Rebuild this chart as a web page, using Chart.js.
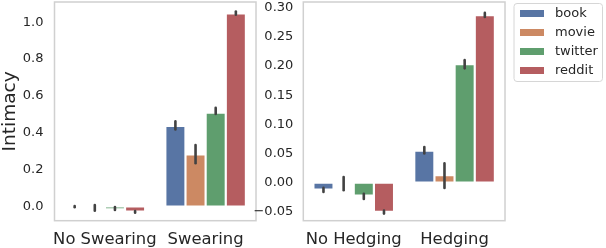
<!DOCTYPE html>
<html>
<head>
<meta charset="utf-8">
<script src="https://cdn.jsdelivr.net/npm/chart.js@4/dist/chart.umd.min.js"></script>
<style>
  body { margin: 0; background: #fff; }
  #wrap { position: relative; width: 606px; height: 248px; overflow: hidden; }
  canvas { position: absolute; top: 0; }
  #swearChart { left: 0; }
  #hedgeChart { left: 250px; }
</style>
</head>
<body>
<div id="wrap">
  <canvas id="swearChart" width="260" height="248"></canvas>
  <canvas id="hedgeChart" width="356" height="248"></canvas>
</div>
<script>
// ===== data =====
const subsets = ["book", "movie", "twitter", "reddit"];
const colors = ["#5875a4", "#cc8963", "#5f9e6e", "#b55d60"];

const swearCats = ["No Swearing", "Swearing"];
const hedgeCats = ["No Hedging", "Hedging"];

// mean intimacy per subset, one row per subset (book, movie, twitter, reddit)
const swearMeans = [
  [-0.001, 0.437],
  [-0.006, 0.283],
  [-0.016, 0.510],
  [-0.028, 1.048],
];
const swearLow = [
  [-0.004, 0.418],
  [-0.023, 0.235],
  [-0.019, 0.502],
  [-0.034, 1.041],
];
const swearHigh = [
  [0.003, 0.462],
  [0.008, 0.334],
  [-0.003, 0.536],
  [-0.025, 1.058],
];

const hedgeMeans = [
  [-0.012, 0.055],
  [-0.002, 0.013],
  [-0.022, 0.203],
  [-0.050, 0.287],
];
const hedgeLow = [
  [-0.016, 0.050],
  [-0.013, -0.009],
  [-0.028, 0.196],
  [-0.053, 0.284],
];
const hedgeHigh = [
  [-0.009, 0.061],
  [0.0095, 0.033],
  [-0.019, 0.210],
  [-0.048, 0.291],
];

const swearTicks = [0.0, 0.2, 0.4, 0.6, 0.8, 1.0];
const hedgeTicks = [-0.05, 0.0, 0.05, 0.10, 0.15, 0.20, 0.25, 0.30];

const textColor = "#262626";
const fontFamily = "'DejaVu Sans', sans-serif";

// error bars (confidence intervals) drawn at each bar's center
const ciPlugin = {
  id: "ciBars",
  afterDatasetsDraw(chart) {
    const ctx = chart.ctx;
    const yScale = chart.scales.y;
    ctx.save();
    ctx.strokeStyle = "#424242";
    ctx.lineWidth = 2.6;
    ctx.lineCap = "round";
    chart.data.datasets.forEach((ds, i) => {
      chart.getDatasetMeta(i).data.forEach((bar, j) => {
        ctx.beginPath();
        ctx.moveTo(bar.x, yScale.getPixelForValue(ds.ciLow[j]));
        ctx.lineTo(bar.x, yScale.getPixelForValue(ds.ciHigh[j]));
        ctx.stroke();
      });
    });
    ctx.restore();
  },
};

// light grey box round the plot area
const framePlugin = {
  id: "frame",
  afterDraw(chart) {
    const { ctx, chartArea: a } = chart;
    ctx.save();
    ctx.strokeStyle = "#d0d0d0";
    ctx.lineWidth = 1.5;
    ctx.strokeRect(a.left, a.top, a.right - a.left, a.bottom - a.top);
    ctx.restore();
  },
};

// boxed legend to the right of the hedging panel
const boxLegendPlugin = {
  id: "boxLegend",
  afterDraw(chart) {
    const ctx = chart.ctx;
    const x = chart.chartArea.right + 9;
    const y = 3.5;
    const w = 88.5;
    const h = 78;
    ctx.save();
    ctx.fillStyle = "rgba(255,255,255,0.8)";
    ctx.strokeStyle = "#d6d6d6";
    ctx.lineWidth = 1;
    ctx.beginPath();
    ctx.roundRect(x, y, w, h, 3);
    ctx.fill();
    ctx.stroke();
    ctx.font = "13px " + fontFamily;
    ctx.textBaseline = "middle";
    chart.data.datasets.forEach((ds, i) => {
      const cy = y + 10 + i * 19;
      ctx.fillStyle = ds.backgroundColor;
      ctx.fillRect(x + 6, cy - 3.5, 24, 7);
      ctx.fillStyle = textColor;
      ctx.fillText(ds.label, x + 41, cy);
    });
    ctx.restore();
  },
};

function makeDatasets(means, low, high) {
  return subsets.map((name, i) => ({
    label: name,
    data: means[i],
    ciLow: low[i],
    ciHigh: high[i],
    backgroundColor: colors[i],
    borderColor: "#ffffff",
    borderWidth: 1.1,
    borderSkipped: false,
    categoryPercentage: 0.8,
    barPercentage: 1.0,
  }));
}

function makeChart(canvasId, cats, means, low, high, cfg) {
  const ctx = document.getElementById(canvasId).getContext("2d");
  return new Chart(ctx, {
    type: "bar",
    data: { labels: cats, datasets: makeDatasets(means, low, high) },
    options: {
      responsive: false,
      animation: false,
      layout: { padding: { left: 0, top: 2, right: cfg.padRight, bottom: 0 } },
      plugins: { legend: { display: false }, tooltip: { enabled: false } },
      scales: {
        x: {
          offset: true,
          grid: { display: false, drawTicks: false },
          border: { display: false },
          ticks: {
            color: textColor,
            padding: 9,
            autoSkip: false,
            minRotation: 0,
            maxRotation: 0,
            font: { family: fontFamily, size: 16.4 },
          },
          afterFit: (s) => {
            s.height = 27.3;
            s.paddingLeft = 0;
            s.paddingRight = 0;
          },
        },
        y: {
          min: cfg.min,
          max: cfg.max,
          grid: { display: false, drawTicks: false },
          border: { display: false },
          title: {
            display: !!cfg.title,
            text: cfg.title || "",
            color: textColor,
            padding: 0,
            font: { family: fontFamily, size: 18.5, lineHeight: 1.1 },
          },
          ticks: {
            color: textColor,
            padding: cfg.tickPad,
            font: { family: fontFamily, size: 13 },
            callback: (v) => v.toFixed(cfg.decimals).replace("-", "\u2212"),
          },
          afterBuildTicks: (axis) => { axis.ticks = cfg.ticks.map((v) => ({ value: v })); },
          afterFit: (s) => {
            s.width = cfg.axisWidth;
            s.paddingTop = 0;
            s.paddingBottom = 0;
          },
        },
      },
    },
    plugins: cfg.plugins,
  });
}

makeChart("swearChart", swearCats, swearMeans, swearLow, swearHigh, {
  padRight: 4, min: -0.077, max: 1.11, ticks: swearTicks, decimals: 1,
  title: "Intimacy", tickPad: 11, axisWidth: 54.5,
  plugins: [framePlugin, ciPlugin],
});

makeChart("hedgeChart", hedgeCats, hedgeMeans, hedgeLow, hedgeHigh, {
  padRight: 101, min: -0.0652, max: 0.3097, ticks: hedgeTicks, decimals: 2,
  title: null, tickPad: 10, axisWidth: 53.3,
  plugins: [framePlugin, ciPlugin, boxLegendPlugin],
});
</script>
</body>
</html>
